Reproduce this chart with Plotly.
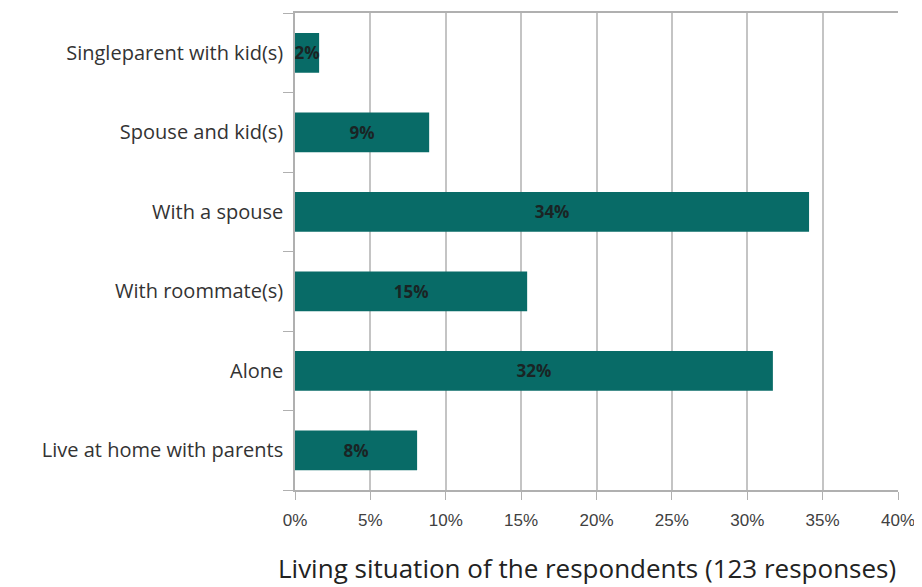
import plotly.graph_objects as go

categories = ["Live at home with parents", "Alone", "With roommate(s)",
              "With a spouse", "Spouse and kid(s)", "Singleparent with kid(s)"]
values = [8.1, 31.7, 15.4, 34.1, 8.9, 1.6]
labels = ["8%", "32%", "15%", "34%", "9%", "2%"]
xtick_vals = [0, 5, 10, 15, 20, 25, 30, 35, 40]
xtick_text = ["0%", "5%", "10%", "15%", "20%", "25%", "30%", "35%", "40%"]

# The page body has an 8px default margin, so margins compensate for it.
fig = go.Figure()
fig.add_trace(go.Bar(
    y=categories, x=values, orientation="h",
    marker=dict(color="#086B67", line=dict(width=0)),
    width=0.5,
    text=labels, textposition="inside", insidetextanchor="middle",
    textangle=0, constraintext="none",
    textfont=dict(family="Open Sans, sans-serif", size=17, color="#1a2424", weight="bold"),
    cliponaxis=False,
))

fig.update_layout(
    width=922, height=587,
    margin=dict(l=287, r=32, t=3, b=105),
    paper_bgcolor="white", plot_bgcolor="white",
    showlegend=False,
    bargap=0.5,
)
fig.update_xaxes(
    range=[0, 40], tickvals=xtick_vals, ticktext=xtick_text,
    showgrid=True, gridcolor="#c4c4c4", gridwidth=1.5,
    showline=True, linecolor="#b0b0b0", linewidth=1.5, mirror=True,
    ticks="outside", ticklen=8, tickcolor="#b0b0b0",
    tickfont=dict(family="Liberation Sans, Arial, sans-serif", size=17, color="#404040"),
    ticklabelstandoff=6,
    zeroline=False, fixedrange=True,
)
fig.update_yaxes(
    type="category", tickson="boundaries",
    showgrid=False, showline=True, linecolor="#b0b0b0", linewidth=1.5,
    ticks="outside", ticklen=10, tickcolor="#b0b0b0",
    tickfont=dict(family="Open Sans, sans-serif", size=20, color="#333333"),
    ticklabelstandoff=6,
)
fig.add_annotation(
    text="Living situation of the respondents (123 responses)",
    xref="paper", yref="paper", x=0.484, y=-0.163, xanchor="center", yanchor="middle",
    showarrow=False,
    font=dict(family="Open Sans, sans-serif", size=26, color="#222222"),
)

fig.write_html("out.html")
